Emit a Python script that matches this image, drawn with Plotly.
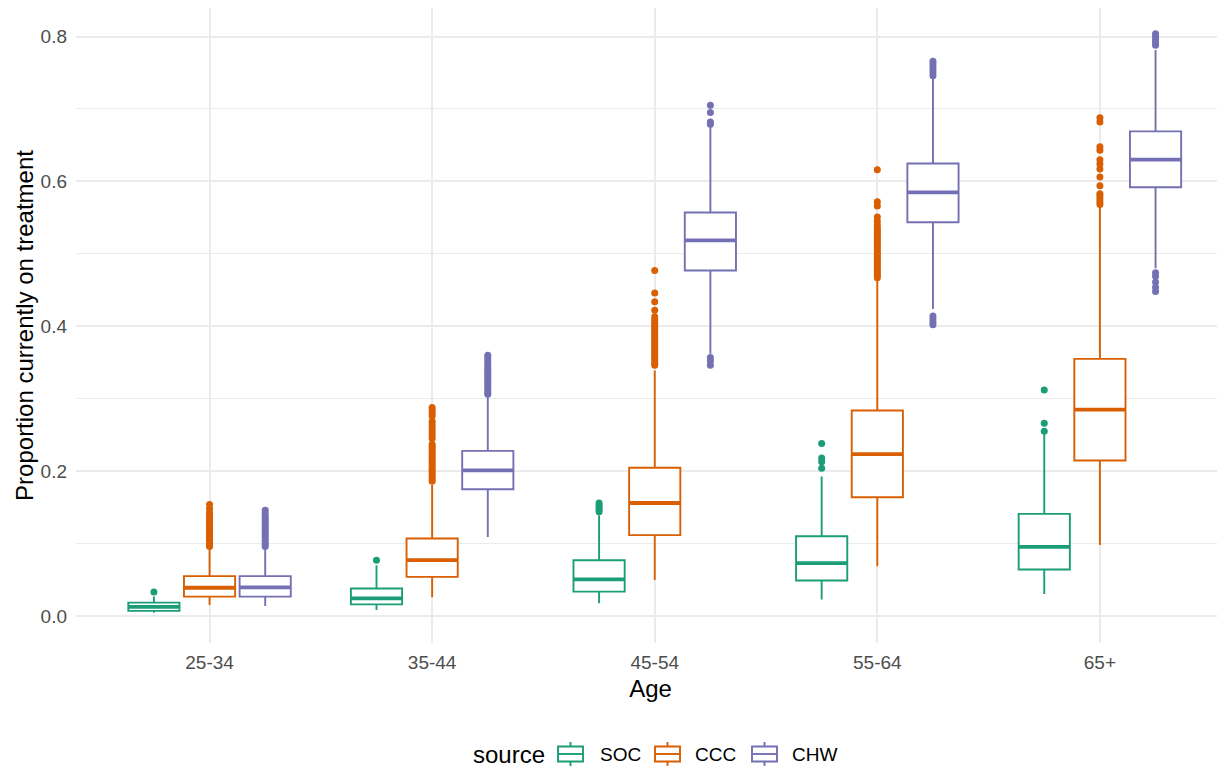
import plotly.graph_objects as go

ages = ["25-34", "35-44", "45-54", "55-64", "65+"]
sources = ["SOC", "CCC", "CHW"]
colors = {"SOC": "#1B9E77", "CCC": "#D95F02", "CHW": "#7570B3"}

# Box statistics per source (one value per age group)
soc_q1 = [0.0070, 0.0160, 0.0336, 0.0490, 0.0641]
soc_med = [0.0125, 0.0244, 0.0506, 0.0730, 0.0953]
soc_q3 = [0.0185, 0.0380, 0.0770, 0.1100, 0.1410]
soc_lo = [0.0045, 0.0083, 0.0175, 0.0229, 0.0304]
soc_hi = [0.0270, 0.0700, 0.1390, 0.1927, 0.2510]

ccc_q1 = [0.0267, 0.0540, 0.1117, 0.1640, 0.2147]
ccc_med = [0.0390, 0.0770, 0.1560, 0.2236, 0.2848]
ccc_q3 = [0.0550, 0.1070, 0.2046, 0.2837, 0.3550]
ccc_lo = [0.0150, 0.0258, 0.0497, 0.0687, 0.0980]
ccc_hi = [0.0910, 0.1810, 0.3390, 0.4633, 0.5650]

chw_q1 = [0.0267, 0.1750, 0.4770, 0.5435, 0.5920]
chw_med = [0.0395, 0.2010, 0.5186, 0.5848, 0.6300]
chw_q3 = [0.0550, 0.2280, 0.5570, 0.6247, 0.6690]
chw_lo = [0.0138, 0.1090, 0.3620, 0.4239, 0.4800]
chw_hi = [0.0910, 0.3020, 0.6750, 0.7414, 0.7815]

# Outliers per source, per age group
soc_out = [
    [0.033],
    [0.077],
    [0.144, 0.147, 0.150, 0.153, 0.156],
    [0.204, 0.213, 0.218, 0.238],
    [0.255, 0.266, 0.312],
]
ccc_out = [
    [0.096, 0.099, 0.102, 0.105, 0.108, 0.111, 0.114, 0.117, 0.120, 0.123,
     0.126, 0.129, 0.132, 0.135, 0.139, 0.143, 0.148, 0.154],
    [0.186, 0.189, 0.192, 0.195, 0.198, 0.201, 0.204, 0.207, 0.210, 0.213,
     0.216, 0.219, 0.222, 0.225, 0.228, 0.231, 0.234, 0.237, 0.245, 0.249,
     0.253, 0.257, 0.261, 0.265, 0.269, 0.276, 0.280, 0.284, 0.288],
    [0.346, 0.349, 0.352, 0.355, 0.358, 0.361, 0.364, 0.367, 0.370, 0.373,
     0.376, 0.379, 0.382, 0.385, 0.388, 0.391, 0.394, 0.397, 0.400, 0.403,
     0.406, 0.409, 0.413, 0.422, 0.434, 0.446, 0.477],
    [0.467, 0.470, 0.473, 0.476, 0.479, 0.482, 0.485, 0.488, 0.491, 0.494,
     0.497, 0.500, 0.503, 0.506, 0.509, 0.512, 0.515, 0.518, 0.521, 0.524,
     0.527, 0.530, 0.533, 0.536, 0.540, 0.545, 0.551, 0.566, 0.572, 0.616],
    [0.568, 0.572, 0.576, 0.580, 0.583, 0.594, 0.606, 0.617, 0.624, 0.630,
     0.643, 0.648, 0.682, 0.688],
]
chw_out = [
    [0.096, 0.099, 0.102, 0.105, 0.108, 0.111, 0.114, 0.117, 0.120, 0.123,
     0.126, 0.129, 0.132, 0.135, 0.138, 0.142, 0.146],
    [0.306, 0.309, 0.312, 0.315, 0.318, 0.321, 0.324, 0.327, 0.330, 0.333,
     0.336, 0.339, 0.342, 0.345, 0.349, 0.353, 0.357, 0.360],
    [0.346, 0.352, 0.357, 0.679, 0.682, 0.695, 0.705],
    [0.402, 0.406, 0.410, 0.414, 0.746, 0.750, 0.754, 0.758, 0.762, 0.766],
    [0.448, 0.454, 0.461, 0.469, 0.474, 0.788, 0.792, 0.796, 0.800, 0.804],
]

stats = {
    "SOC": (soc_q1, soc_med, soc_q3, soc_lo, soc_hi, soc_out),
    "CCC": (ccc_q1, ccc_med, ccc_q3, ccc_lo, ccc_hi, ccc_out),
    "CHW": (chw_q1, chw_med, chw_q3, chw_lo, chw_hi, chw_out),
}
offsets = {"SOC": -0.25, "CCC": 0.0, "CHW": 0.25}
box_w = 0.23

# The page body has an 8px margin, so the figure is drawn 8px in from the corner.
OFF = 8
W, H = 1225 - OFF, 769 - OFF
ML, MR, MT, MB = 68, 0, 0, 126
PW, PH = W - ML - MR, H - MT - MB

FONT = "Liberation Sans, Arial, Helvetica, sans-serif"
fig = go.Figure()

for s in sources:
    q1, med, q3, lo, hi, outs = stats[s]
    xs = [i + 1 + offsets[s] for i in range(len(ages))]
    fig.add_trace(go.Box(
        x=xs, q1=q1, median=med, q3=q3, lowerfence=lo, upperfence=hi,
        name=s, width=box_w, whiskerwidth=0, boxpoints=False,
        line=dict(color=colors[s], width=1.9), fillcolor="white",
        hoverinfo="skip", showlegend=False,
    ))
    # thicker median lines
    mx, my = [], []
    for x, m in zip(xs, med):
        mx += [x - box_w / 2, x + box_w / 2, None]
        my += [m, m, None]
    fig.add_trace(go.Scatter(
        x=mx, y=my, mode="lines", line=dict(color=colors[s], width=3.8),
        showlegend=False, hoverinfo="skip",
    ))
    # outliers
    ox, oy = [], []
    for x, vals in zip(xs, outs):
        ox += [x] * len(vals)
        oy += vals
    fig.add_trace(go.Scatter(
        x=ox, y=oy, mode="markers",
        marker=dict(color=colors[s], size=7, line=dict(width=0)),
        showlegend=False, hoverinfo="skip",
    ))


def px(xwin):
    return (xwin - OFF - ML) / PW


def py(ywin):
    return (H - MB - (ywin - OFF)) / PH


# Manual legend (ggplot style keys), positions in window pixels
shapes = []
annotations = []
legend_cy = 754
annotations.append(dict(
    x=px(471), y=py(legend_cy), xref="paper", yref="paper", text="source",
    showarrow=False, xanchor="left", yanchor="middle",
    font=dict(family=FONT, size=24, color="black"),
))
key_left = {"SOC": 558, "CCC": 655, "CHW": 752}
text_left = {"SOC": 598, "CCC": 693, "CHW": 790}
for s in sources:
    kl = key_left[s]
    kr = kl + 25
    kc = (kl + kr) / 2
    c = colors[s]
    shapes.append(dict(type="line", xref="paper", yref="paper",
                       x0=px(kc), x1=px(kc), y0=py(legend_cy - 12), y1=py(legend_cy - 7.5),
                       line=dict(color=c, width=1.9)))
    shapes.append(dict(type="line", xref="paper", yref="paper",
                       x0=px(kc), x1=px(kc), y0=py(legend_cy + 7.5), y1=py(legend_cy + 12),
                       line=dict(color=c, width=1.9)))
    shapes.append(dict(type="rect", xref="paper", yref="paper",
                       x0=px(kl), x1=px(kr), y0=py(legend_cy + 7.5), y1=py(legend_cy - 7.5),
                       line=dict(color=c, width=1.9), fillcolor="white"))
    shapes.append(dict(type="line", xref="paper", yref="paper",
                       x0=px(kl), x1=px(kr), y0=py(legend_cy), y1=py(legend_cy),
                       line=dict(color=c, width=1.9)))
    annotations.append(dict(
        x=px(text_left[s]), y=py(legend_cy), xref="paper", yref="paper", text=s,
        showarrow=False, xanchor="left", yanchor="middle",
        font=dict(family=FONT, size=19, color="black"),
    ))

fig.update_layout(
    width=W, height=H,
    margin=dict(l=ML, r=MR, t=MT, b=MB, autoexpand=False),
    paper_bgcolor="white", plot_bgcolor="white",
    boxmode="overlay",
    font=dict(family=FONT, color="#4D4D4D", size=19),
    showlegend=False,
    shapes=shapes,
    annotations=annotations,
)
fig.update_xaxes(
    range=[0.4, 5.562], tickmode="array", tickvals=[1, 2, 3, 4, 5], ticktext=ages,
    showgrid=True, gridcolor="#EBEBEB", gridwidth=2, zeroline=False,
    showline=False, ticks="", ticklabelstandoff=6, automargin=False,
    tickfont=dict(size=19, color="#4D4D4D"),
    title=dict(text="Age", font=dict(size=24, color="black"), standoff=8),
)
fig.update_yaxes(
    range=[-0.0373, 0.8394], tickmode="array",
    tickvals=[0.0, 0.2, 0.4, 0.6, 0.8], ticktext=["0.0", "0.2", "0.4", "0.6", "0.8"],
    showgrid=True, gridcolor="#EBEBEB", gridwidth=2, zeroline=False,
    showline=False, ticks="", ticklabelstandoff=8, automargin=False,
    tickfont=dict(size=19, color="#4D4D4D"),
    minor=dict(tickvals=[0.1, 0.3, 0.5, 0.7], showgrid=True, gridcolor="#EBEBEB", gridwidth=1),
    title=dict(text="Proportion currently on treatment", font=dict(size=24, color="black"), standoff=0),
)

fig.write_html("out.html")
